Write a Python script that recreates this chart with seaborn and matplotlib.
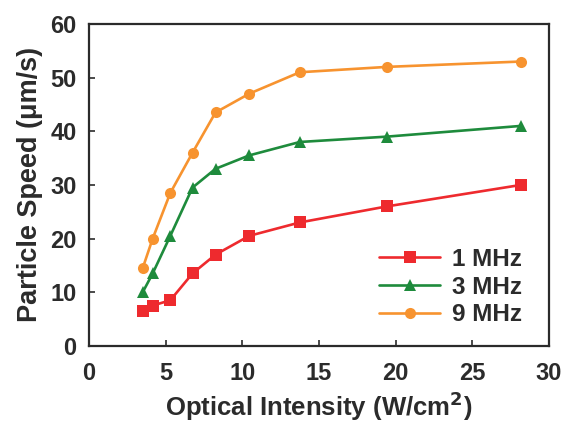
import pandas as pd
import matplotlib.pyplot as plt
import seaborn as sns

# intensity (W/cm^2) shared by all three series
intensity = [3.5, 4.15, 5.3, 6.75, 8.25, 10.45, 13.75, 19.45, 28.2]
speed_1mhz = [6.5, 7.5, 8.5, 13.5, 17.0, 20.5, 23.0, 26.0, 30.0]
speed_3mhz = [10.0, 13.5, 20.5, 29.5, 33.0, 35.5, 38.0, 39.0, 41.0]
speed_9mhz = [14.5, 20.0, 28.5, 36.0, 43.5, 47.0, 51.0, 52.0, 53.0]
series_names = ['1 MHz', '3 MHz', '9 MHz']

rows = []
for name, vals in zip(series_names, [speed_1mhz, speed_3mhz, speed_9mhz]):
    for x, y in zip(intensity, vals):
        rows.append({'I': x, 'v': y, 'freq': name})
df = pd.DataFrame(rows)

sns.set_theme(style="ticks")
plt.rcParams['font.family'] = ['Liberation Sans', 'DejaVu Sans']
plt.rcParams['font.weight'] = 'bold'
plt.rcParams['xtick.direction'] = 'in'
plt.rcParams['ytick.direction'] = 'in'

colors = {'1 MHz': '#ee2a2e', '3 MHz': '#1e8b3c', '9 MHz': '#f7932f'}
markers = {'1 MHz': 's', '3 MHz': '^', '9 MHz': 'o'}

fig = plt.figure(figsize=(5.64, 4.28), dpi=100)
ax = fig.add_axes([0.158, 0.192, 0.815, 0.752])

sns.lineplot(data=df, x='I', y='v', hue='freq', style='freq',
             palette=colors, markers=markers, dashes=False,
             linewidth=1.9, markersize=8, markeredgewidth=0, ax=ax)

ax.set_xlim(0, 30)
ax.set_ylim(0, 60)
ax.set_xticks(range(0, 31, 5))
ax.set_yticks(range(0, 61, 10))
ax.tick_params(axis='both', labelsize=17, colors='#2b2b2b', length=4, width=1.2)
ax.tick_params(axis='x', pad=12)
ax.tick_params(axis='y', pad=9)
for s in ax.spines.values():
    s.set_linewidth(1.6)
    s.set_color('#2b2b2b')

ax.set_xlabel('Optical Intensity (W/cm$^\\mathbf{2}$)', fontsize=18.5, fontweight='bold', color='#2b2b2b', labelpad=3)
ax.set_ylabel('Particle Speed (\u03bcm/s)', fontsize=19.5, fontweight='bold', color='#2b2b2b', labelpad=5)

leg = ax.legend(loc='lower right', frameon=False, fontsize=17.5, handlelength=2.5,
                handletextpad=0.5, labelspacing=0.2, borderaxespad=0,
                bbox_to_anchor=(0.963, 0.03))
for t in leg.get_texts():
    t.set_color('#2b2b2b')

fig.savefig('out.png', dpi=100)
